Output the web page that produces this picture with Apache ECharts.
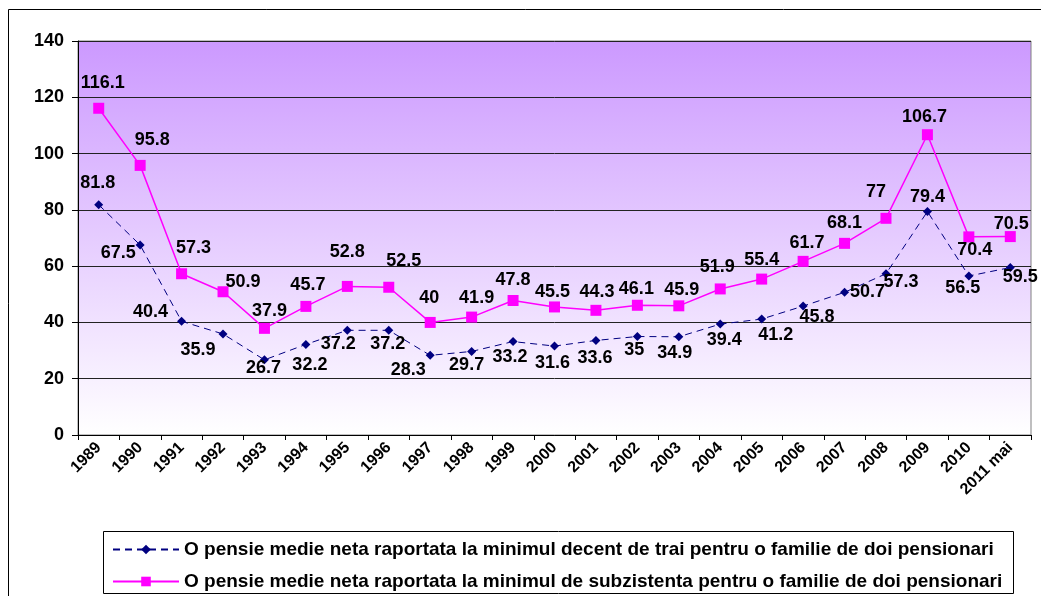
<!DOCTYPE html>
<html>
<head>
<meta charset="utf-8">
<script src="https://cdn.jsdelivr.net/npm/echarts@6/dist/echarts.min.js"></script>
<style>
html,body{margin:0;padding:0;background:#fff;}
#c{width:1041px;height:596px;}
</style>
</head>
<body>
<div id="c"></div>
<script>
var categories = ['1989','1990','1991','1992','1993','1994','1995','1996','1997','1998','1999','2000','2001','2002','2003','2004','2005','2006','2007','2008','2009','2010','2011 mai'];
var decentValues = [81.8, 67.5, 40.4, 35.9, 26.7, 32.2, 37.2, 37.2, 28.3, 29.7, 33.2, 31.6, 33.6, 35, 34.9, 39.4, 41.2, 45.8, 50.7, 57.3, 79.4, 56.5, 59.5];
var subzValues = [116.1, 95.8, 57.3, 50.9, 37.9, 45.7, 52.8, 52.5, 40, 41.9, 47.8, 45.5, 44.3, 46.1, 45.9, 51.9, 55.4, 61.7, 68.1, 77, 106.7, 70.4, 70.5];
var seriesNames = [
  'O pensie medie neta raportata la minimul decent de trai pentru o familie de doi pensionari',
  'O pensie medie neta raportata la minimul de subzistenta pentru o familie de doi pensionari'
];
var yTicks = [0, 20, 40, 60, 80, 100, 120, 140];

// label placement (style only): label-centre offset from the point, in px
var decentLabelOffsets = [[-1,-22],[-22,8],[-31,-9],[-25,16],[-1,8],[4,21],[-9,14],[-1,14],[-22,15],[-5,14],[-3,15],[-2,17],[-1,18],[-3,14],[-4,16],[4,16],[14,16],[14,11],[23,0],[15,8],[0,-15],[-6,12],[10,9]];
var subzLabelOffsets = [[4,-25],[12,-25],[12,-26],[20,-10],[5,-17],[2,-21],[0,-34],[15,-26],[-1,-24],[5,-19],[0,-20],[-2,-15],[1,-18],[-1,-16],[3,-16],[-3,-22],[0,-19],[4,-18],[0,-20],[-10,-26],[-3,-18],[6,13],[1,-13]];

var FONT = '"Liberation Sans", Arial, sans-serif';

function withLabels(values, offsets) {
  return values.map(function (v, i) {
    return { value: v, label: { offset: offsets[i] } };
  });
}

var chart = echarts.init(document.getElementById('c'), null, { renderer: 'canvas' });
chart.setOption({
  animation: false,
  backgroundColor: '#ffffff',
  textStyle: { fontFamily: FONT },
  graphic: [
    { type: 'rect', shape: { x: 8.5, y: 9.5, width: 1100, height: 700 }, style: { fill: 'none', stroke: '#000', lineWidth: 1 }, z: -10 },
    { type: 'rect', shape: { x: 103.5, y: 531.5, width: 910, height: 62 }, style: { fill: '#fff', stroke: '#000', lineWidth: 1 }, z: -5 }
  ],
  grid: {
    left: 78, right: 10, top: 41, bottom: 161,
    show: true,
    borderWidth: 1,
    borderColor: '#808080',
    backgroundColor: {
      type: 'linear', x: 0, y: 0, x2: 0, y2: 1,
      colorStops: [{ offset: 0, color: '#CC99FF' }, { offset: 1, color: '#FFFFFF' }]
    }
  },
  legend: {
    orient: 'vertical',
    left: 112, top: 540,
    itemWidth: 66, itemHeight: 12,
    itemGap: 13,
    padding: 0,
    textStyle: { fontFamily: FONT, fontWeight: 'bold', fontSize: 19, color: '#000' },
    data: seriesNames
  },
  xAxis: {
    type: 'category',
    data: categories,
    boundaryGap: true,
    axisLine: { lineStyle: { color: '#000', width: 1 } },
    axisTick: { show: true, length: 5, lineStyle: { color: '#000' } },
    axisLabel: { rotate: 45, interval: 0, fontFamily: FONT, fontWeight: 'bold', fontSize: 16, color: '#000', margin: 10 },
    splitLine: { show: false }
  },
  yAxis: {
    type: 'value',
    min: 0, max: 140, interval: 20,
    axisLine: { show: true, lineStyle: { color: '#000', width: 1 } },
    axisTick: { show: true, length: 6, lineStyle: { color: '#000' } },
    axisLabel: { fontFamily: FONT, fontWeight: 'bold', fontSize: 18, color: '#000', margin: 14,
      formatter: function (v) { return yTicks.indexOf(v) >= 0 ? String(v) : ''; } },
    splitLine: { show: true, lineStyle: { color: '#222', width: 1 } }
  },
  series: [
    {
      name: seriesNames[0],
      type: 'line',
      data: withLabels(decentValues, decentLabelOffsets),
      symbol: 'diamond', symbolSize: 9,
      itemStyle: { color: '#000080' },
      lineStyle: { color: '#000080', width: 1, type: [7, 5] },
      label: { show: true, position: 'inside', fontFamily: FONT, fontWeight: 'bold', fontSize: 18, color: '#000' },
      z: 3
    },
    {
      name: seriesNames[1],
      type: 'line',
      data: withLabels(subzValues, subzLabelOffsets),
      symbol: 'rect', symbolSize: 11,
      itemStyle: { color: '#FF00FF' },
      lineStyle: { color: '#FF00FF', width: 1.5 },
      label: { show: true, position: 'inside', fontFamily: FONT, fontWeight: 'bold', fontSize: 18, color: '#000' },
      z: 4
    }
  ]
});
</script>
</body>
</html>
